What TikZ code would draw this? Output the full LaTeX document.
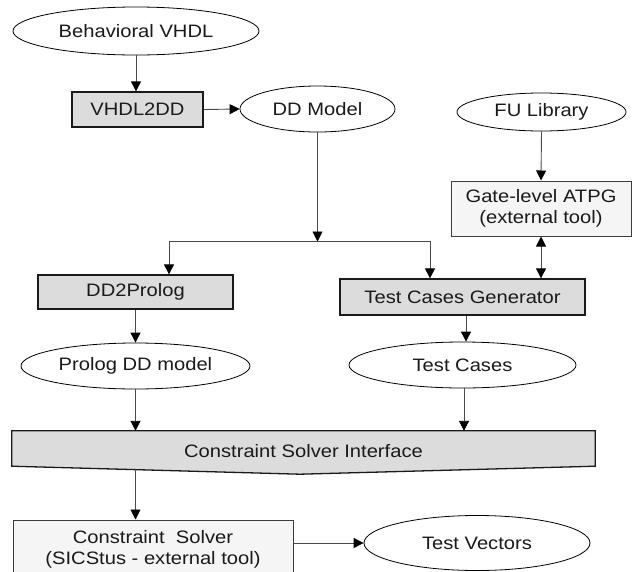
\documentclass[tikz,border=0pt]{standalone}
\usepackage{fontspec}
\setmainfont{Liberation Sans}[FakeStretch=1.12]
\usetikzlibrary{shapes.geometric,arrows.meta,calc}
\definecolor{boxgray}{HTML}{DCDCDC}
\definecolor{toolgray}{HTML}{F5F5F5}
\definecolor{ink}{HTML}{1A1A1A}
\definecolor{wire}{HTML}{4A4A4A}

\begin{document}
\begin{tikzpicture}[x=1pt,y=-1pt,
  every node/.style={font=\fontsize{18}{21}\selectfont, text=ink, inner sep=0pt},
  datum/.style={ellipse, draw=black, line width=0.8pt, fill=white},
  procbox/.style={rectangle, draw=ink, line width=1.3pt, fill=boxgray},
  toolbox/.style={rectangle, draw=ink!85, line width=1pt, fill=toolgray, align=center},
  arr/.style={draw=wire, line width=0.9pt, -{Triangle[length=10pt,width=10pt,color=black]}},
  biarr/.style={draw=wire, line width=0.9pt, {Triangle[length=10pt,width=10pt,color=black]}-{Triangle[length=10pt,width=10pt,color=black]}}
]
\clip (0,0) rectangle (632,571);
\fill[white] (0,0) rectangle (632,571);

% data items and processing steps
\node[datum, minimum width=246pt, minimum height=48pt] (bvhdl) at (136,31) {Behavioral VHDL};
\node[procbox, minimum width=131pt, minimum height=35pt] (vhdl2dd) at (137.5,109.5) {VHDL2DD};
\node[datum, minimum width=155pt, minimum height=46pt] (ddmodel) at (317.5,109) {DD Model};
\node[datum, minimum width=169pt, minimum height=38pt] (fulib) at (541.5,112) {FU Library};
\node[toolbox, minimum width=180pt, minimum height=55pt] (atpg) at (541,208.5) {Gate-level ATPG\\(external tool)};
\node[procbox, minimum width=195pt, minimum height=34pt] (dd2p) at (135.5,292) {DD2Prolog};
\node[procbox, minimum width=245pt, minimum height=36pt] (tcg) at (462.5,297) {Test Cases Generator};
\node[datum, minimum width=229pt, minimum height=46pt] (prolog) at (135.5,366) {Prolog DD model};
\node[datum, minimum width=227pt, minimum height=46pt] (tcases) at (462.5,365) {Test Cases};

% interface block with a pointed lower edge
\node[minimum width=583pt, minimum height=35pt] (csi) at (303.5,448.5) {};
\filldraw[fill=boxgray, draw=ink, line width=1.3pt]
  (csi.north west) -- (csi.north east) -- (csi.south east)
  -- ($(csi.south)+(-3.5,8)$) -- (csi.south west) -- cycle;
\node (csilabel) at ($(csi.center)+(0,3)$) {Constraint Solver Interface};

\node[toolbox, minimum width=280pt, minimum height=58pt] (cs) at (153,549) {Constraint~~Solver\\(SICStus - external tool)};
\node[datum, minimum width=226pt, minimum height=55pt] (tvec) at (477,543) {Test Vectors};

% fork below the DD model
\coordinate (j) at (ddmodel.south |- 0,241.5);
\coordinate (jl) at (169,241.5);
\coordinate (jr) at (430,241.5);

% connectors
\draw[arr] (bvhdl.south) -- (bvhdl.south |- vhdl2dd.north);
\draw[arr] (vhdl2dd.east) -- (ddmodel.west);
\draw[arr] (ddmodel.south) -- (j);
\draw[arr] (j) -| (dd2p.north -| jl);
\draw[arr] (j) -| (tcg.north -| jr);
\draw[arr] (fulib.south) -- (atpg.north);
\draw[biarr] (atpg.south) -- (atpg.south |- tcg.north);
\draw[arr] (dd2p.south) -- (prolog.north);
\draw[arr] (tcg.south -| 466,0) -- (tcases.north -| 466,0);
\draw[arr] (prolog.south) -- (prolog.south |- csi.north);
\draw[arr] (tcases.south -| 464,0) -- (csi.north -| 464,0);
\draw[arr] ($(prolog.south |- csi.south)+(0,3)$) -- (prolog.south |- cs.north);
\draw[arr] (cs.east |- tvec.west) -- (tvec.west);
\end{tikzpicture}
\end{document}
